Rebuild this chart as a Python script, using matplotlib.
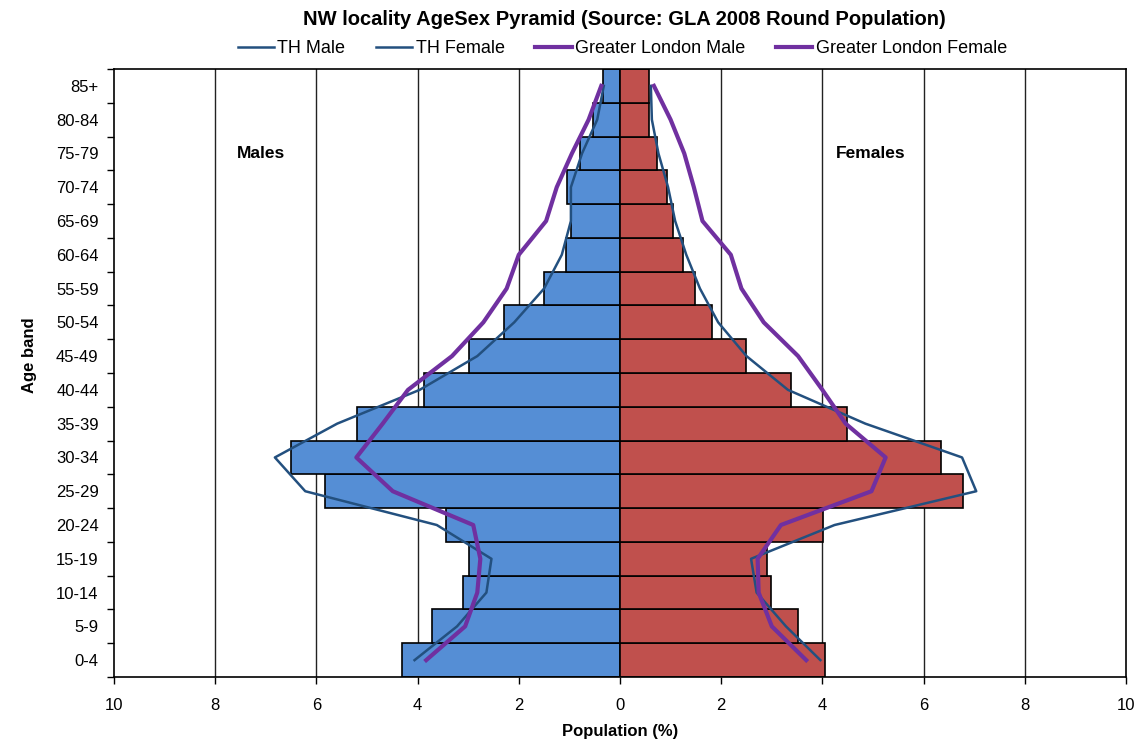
import numpy as np
import matplotlib
matplotlib.use('Agg')
import matplotlib.pyplot as plt
from matplotlib.ticker import FixedLocator, FuncFormatter

plt.rcParams['font.family'] = ['Liberation Sans', 'DejaVu Sans']

## Data (percent of population), bottom to top
age_bands = ['0-4', '5-9', '10-14', '15-19', '20-24', '25-29', '30-34', '35-39', '40-44',
             '45-49', '50-54', '55-59', '60-64', '65-69', '70-74', '75-79', '80-84', '85+']

nw_male = [4.31, 3.71, 3.10, 2.98, 3.44, 5.82, 6.50, 5.19, 3.87,
           2.99, 2.30, 1.50, 1.07, 0.97, 1.05, 0.79, 0.54, 0.34]
nw_female = [4.05, 3.51, 2.99, 2.90, 4.01, 6.78, 6.35, 4.48, 3.37,
             2.50, 1.82, 1.49, 1.24, 1.05, 0.93, 0.73, 0.58, 0.58]

th_male = [4.06, 3.22, 2.64, 2.54, 3.62, 6.22, 6.82, 5.59, 3.96,
           2.82, 2.09, 1.50, 1.15, 0.97, 0.97, 0.75, 0.45, 0.32]
th_female = [3.96, 3.28, 2.70, 2.59, 4.24, 7.04, 6.76, 4.85, 3.32,
             2.50, 1.94, 1.58, 1.31, 1.09, 0.95, 0.76, 0.63, 0.61]

gl_male = [3.83, 3.06, 2.82, 2.76, 2.90, 4.49, 5.21, 4.69, 4.19,
           3.32, 2.70, 2.24, 2.00, 1.46, 1.25, 0.95, 0.62, 0.37]
gl_female = [3.68, 3.00, 2.74, 2.72, 3.18, 4.97, 5.25, 4.46, 4.00,
             3.52, 2.84, 2.40, 2.19, 1.63, 1.46, 1.27, 1.00, 0.67]

x_ticks = [-10, -8, -6, -4, -2, 0, 2, 4, 6, 8, 10]

## Plot
y = np.arange(len(age_bands))
fig = plt.figure(figsize=[11.42, 7.40], dpi=100)
ax = fig.add_axes([0.0998, 0.0851, 0.8862, 0.8217])

for xv in x_ticks[1:-1]:
    if xv != 0:
        ax.axvline(xv, color='#222222', linewidth=1.0, zorder=0)

ax.barh(y, -np.array(nw_male), height=1.0, color='#558ED5', edgecolor='black', linewidth=1.2, zorder=2)
ax.barh(y, nw_female, height=1.0, color='#C0504D', edgecolor='black', linewidth=1.2, zorder=2)

l1, = ax.plot(-np.array(th_male), y, color='#23507F', linewidth=1.8, zorder=3, label='TH Male')
l2, = ax.plot(th_female, y, color='#23507F', linewidth=1.8, zorder=3, label='TH Female')
l3, = ax.plot(-np.array(gl_male), y, color='#7030A0', linewidth=3.0, zorder=4, label='Greater London Male')
l4, = ax.plot(gl_female, y, color='#7030A0', linewidth=3.0, zorder=4, label='Greater London Female')

ax.set_xlim(-10, 10)
ax.set_ylim(-0.5, len(age_bands) - 0.5)

ax.set_xticks(x_ticks)
ax.xaxis.set_major_formatter(FuncFormatter(lambda v, p: '%d' % abs(v)))
ax.set_yticks(y)
ax.set_yticklabels(age_bands)
ax.yaxis.set_minor_locator(FixedLocator(np.arange(-0.5, len(age_bands), 1.0)))
ax.tick_params(axis='y', which='major', length=0, pad=11, labelsize=12)
ax.tick_params(axis='y', which='minor', length=5, width=1.0, direction='out')
ax.tick_params(axis='x', which='major', length=5, width=1.0, direction='out', pad=10, labelsize=12)

for s in ax.spines.values():
    s.set_linewidth(1.2)
    s.set_color('black')

ax.text(-7.1, 15, 'Males', fontsize=12.5, fontweight='bold', ha='center', va='center')
ax.text(4.95, 15, 'Females', fontsize=12.5, fontweight='bold', ha='center', va='center')

ax.set_xlabel('Population (%)', fontsize=12, fontweight='bold', labelpad=8)
ax.set_ylabel('Age band', fontsize=12, fontweight='bold')
ax.yaxis.set_label_coords(-0.076, 0.53)

fig.text(0.547, 0.973, 'NW locality AgeSex Pyramid (Source: GLA 2008 Round Population)',
         fontsize=14.5, fontweight='bold', ha='center', va='center')
fig.legend(handles=[l1, l2, l3, l4], loc='center', bbox_to_anchor=(0.545, 0.934), ncol=4,
           frameon=False, fontsize=13, handlelength=2.0, handletextpad=0.2, columnspacing=1.7)

fig.savefig('out.png', dpi=100)
